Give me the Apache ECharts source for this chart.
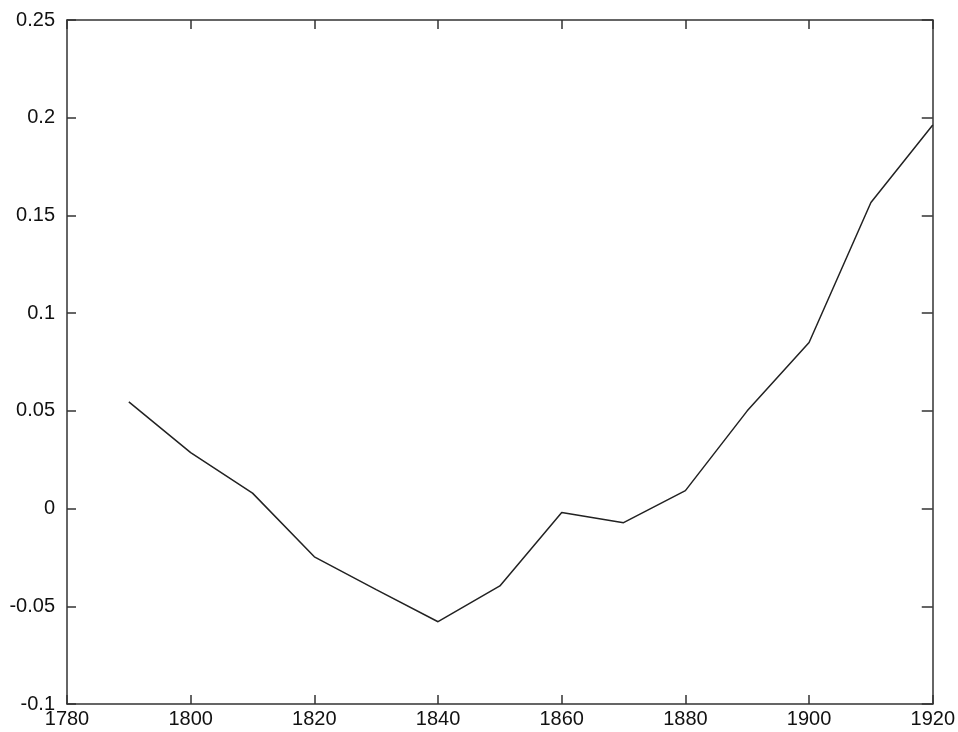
<!DOCTYPE html>
<html>
<head>
<meta charset="utf-8">
<script src="https://cdn.jsdelivr.net/npm/echarts@6/dist/echarts.min.js"></script>
<style>html,body{margin:0;padding:0;background:#fff;}#c{width:958px;height:732px;}</style>
</head>
<body>
<div id="c"></div>
<script>
const years = [1790, 1800, 1810, 1820, 1830, 1840, 1850, 1860, 1870, 1880, 1890, 1900, 1910, 1920];
const values = [0.0546, 0.0286, 0.0079, -0.0247, -0.0415, -0.0579, -0.0396, -0.0020, -0.0072, 0.0092, 0.0500, 0.0850, 0.1566, 0.1963];
const xTicks = [1780, 1800, 1820, 1840, 1860, 1880, 1900, 1920];
const yTicks = [-0.1, -0.05, 0, 0.05, 0.1, 0.15, 0.2, 0.25];

const chart = echarts.init(document.getElementById('c'), null, {renderer: 'canvas'});
const axisColor = '#333';
const labelStyle = {color: '#111', fontFamily: 'Liberation Sans, Arial, sans-serif', fontSize: 20};
const fmtY = v => { const r = Math.round(v * 100) / 100; return String(r); };
chart.setOption({
  animation: false,
  grid: {left: 67, right: 25, top: 20, bottom: 28, containLabel: false},
  xAxis: [{
    type: 'value', min: xTicks[0], max: xTicks[xTicks.length - 1], interval: 20,
    axisLine: {show: true, onZero: false, lineStyle: {color: axisColor, width: 1.5}},
    axisTick: {show: true, inside: true, length: 9, lineStyle: {color: axisColor, width: 1.5}},
    axisLabel: Object.assign({margin: 5, formatter: v => String(v)}, labelStyle),
    splitLine: {show: false}
  }, {
    type: 'value', position: 'top', min: xTicks[0], max: xTicks[xTicks.length - 1], interval: 20,
    axisLine: {show: true, onZero: false, lineStyle: {color: axisColor, width: 1.5}},
    axisTick: {show: true, inside: true, length: 9, lineStyle: {color: axisColor, width: 1.5}},
    axisLabel: {show: false}, splitLine: {show: false}
  }],
  yAxis: [{
    type: 'value', min: yTicks[0], max: yTicks[yTicks.length - 1], interval: 0.05,
    axisLine: {show: true, onZero: false, lineStyle: {color: axisColor, width: 1.5}},
    axisTick: {show: true, inside: true, length: 9, lineStyle: {color: axisColor, width: 1.5}},
    axisLabel: Object.assign({margin: 12, formatter: fmtY}, labelStyle),
    splitLine: {show: false}
  }, {
    type: 'value', position: 'right', min: yTicks[0], max: yTicks[yTicks.length - 1], interval: 0.05,
    axisLine: {show: true, onZero: false, lineStyle: {color: axisColor, width: 1.5}},
    axisTick: {show: true, inside: true, length: 11, lineStyle: {color: axisColor, width: 1.5}},
    axisLabel: {show: false}, splitLine: {show: false}
  }],
  series: [{
    type: 'line',
    xAxisIndex: 0, yAxisIndex: 0,
    data: years.map((y, i) => [y, values[i]]),
    showSymbol: false,
    symbol: 'none',
    lineStyle: {color: '#222', width: 1.5},
    silent: true
  }]
});
</script>
</body>
</html>
